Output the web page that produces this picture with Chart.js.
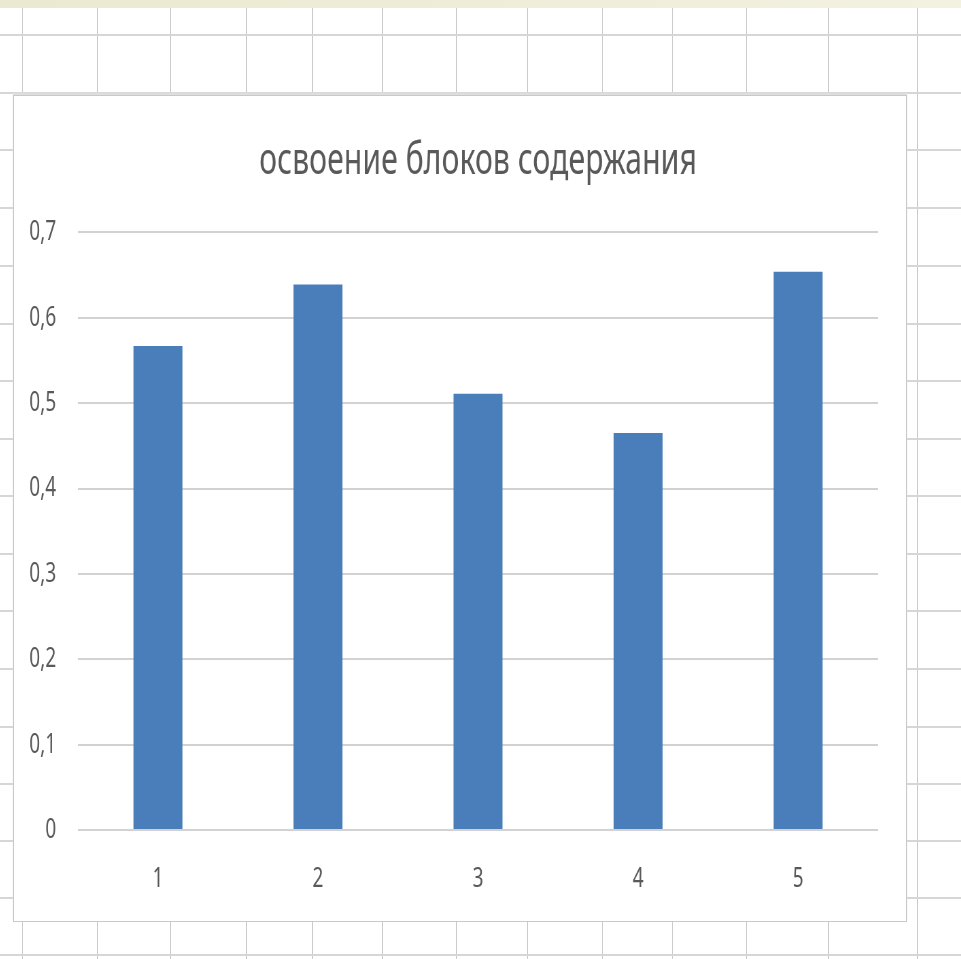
<!DOCTYPE html>
<html>
<head>
<meta charset="utf-8">
<script src="https://cdn.jsdelivr.net/npm/chart.js@4/dist/chart.umd.min.js"></script>
<style>
  html, body { margin: 0; padding: 0; }
  body { width: 961px; height: 959px; position: relative; overflow: hidden; background: #fff; }
  .topbar { position: absolute; left: 0; top: 0; width: 961px; height: 8px; background: linear-gradient(to right, #ebe9d0, #f3f1e0); }
  .vl { position: absolute; top: 8px; bottom: 0; width: 1px; background: #cbcbcb; }
  .hl { position: absolute; left: 0; right: 0; height: 2px; background: #d6d6d6; }
  #box { position: absolute; left: 13px; top: 95px; width: 892px; height: 825px; border: 1px solid #c9c9c9; background: #fff; box-shadow: 0 -2px 1px #dedede; overflow: hidden; }
  /* the screenshot is squeezed sideways, so the chart is drawn wide and compressed */
  #squeeze { width: 1312px; height: 825px; transform: scaleX(0.67988); transform-origin: 0 0; }
</style>
</head>
<body>
<div class="topbar"></div>
<div id="sheet"></div>
<div id="box"><div id="squeeze"><canvas id="chart"></canvas></div></div>

<script>
const title = "освоение блоков содержания";
const labels = ["1", "2", "3", "4", "5"];
const values = [0.567, 0.639, 0.511, 0.465, 0.654];
const yMin = 0;
const yMax = 0.7;
const yStep = 0.1;

// spreadsheet cells behind the chart
const colLines = [22, 97, 170, 246, 312, 382, 456, 527, 602, 672, 746, 828, 917];
const rowLines = [34, 92, 149, 207, 265, 323, 380, 438, 495, 553, 610, 668, 726, 783, 840, 897, 954];

const sheet = document.getElementById("sheet");
colLines.forEach(x => {
  const d = document.createElement("div");
  d.className = "vl";
  d.style.left = x + "px";
  sheet.appendChild(d);
});
rowLines.forEach(y => {
  const d = document.createElement("div");
  d.className = "hl";
  d.style.top = y + "px";
  sheet.appendChild(d);
});

const fmt = v => v === 0 ? "0" : v.toFixed(1).replace(".", ",");

new Chart(document.getElementById("chart"), {
  type: "bar",
  data: {
    labels: labels,
    datasets: [{
      data: values,
      backgroundColor: "#4a7ebb",
      barPercentage: 1,
      categoryPercentage: 0.306
    }]
  },
  options: {
    responsive: true,
    maintainAspectRatio: false,
    animation: false,
    layout: { padding: { left: 0, right: 41, top: 0, bottom: 0 } },
    plugins: {
      legend: { display: false },
      tooltip: { enabled: false },
      title: {
        display: true,
        fullSize: false, // centre over the plot, like Excel does
        text: title,
        color: "#595959",
        font: { family: "Noto Sans", size: 44.5, weight: "normal" },
        padding: { top: 39, bottom: 44 }
      }
    },
    scales: {
      x: {
        grid: { display: false },
        border: { display: false },
        ticks: {
          color: "#595959",
          font: { family: "Noto Sans", size: 28 },
          padding: 24
        },
        afterFit: scale => { scale.height = 91; }
      },
      y: {
        min: yMin,
        max: yMax,
        border: { display: false },
        grid: { color: "#d2d2d2", lineWidth: 2, drawTicks: false },
        ticks: {
          stepSize: yStep,
          color: "#595959",
          font: { family: "Noto Sans", size: 28 },
          padding: 32,
          callback: v => fmt(v)
        },
        afterFit: scale => { scale.width = 94; }
      }
    }
  }
});
</script>
</body>
</html>
